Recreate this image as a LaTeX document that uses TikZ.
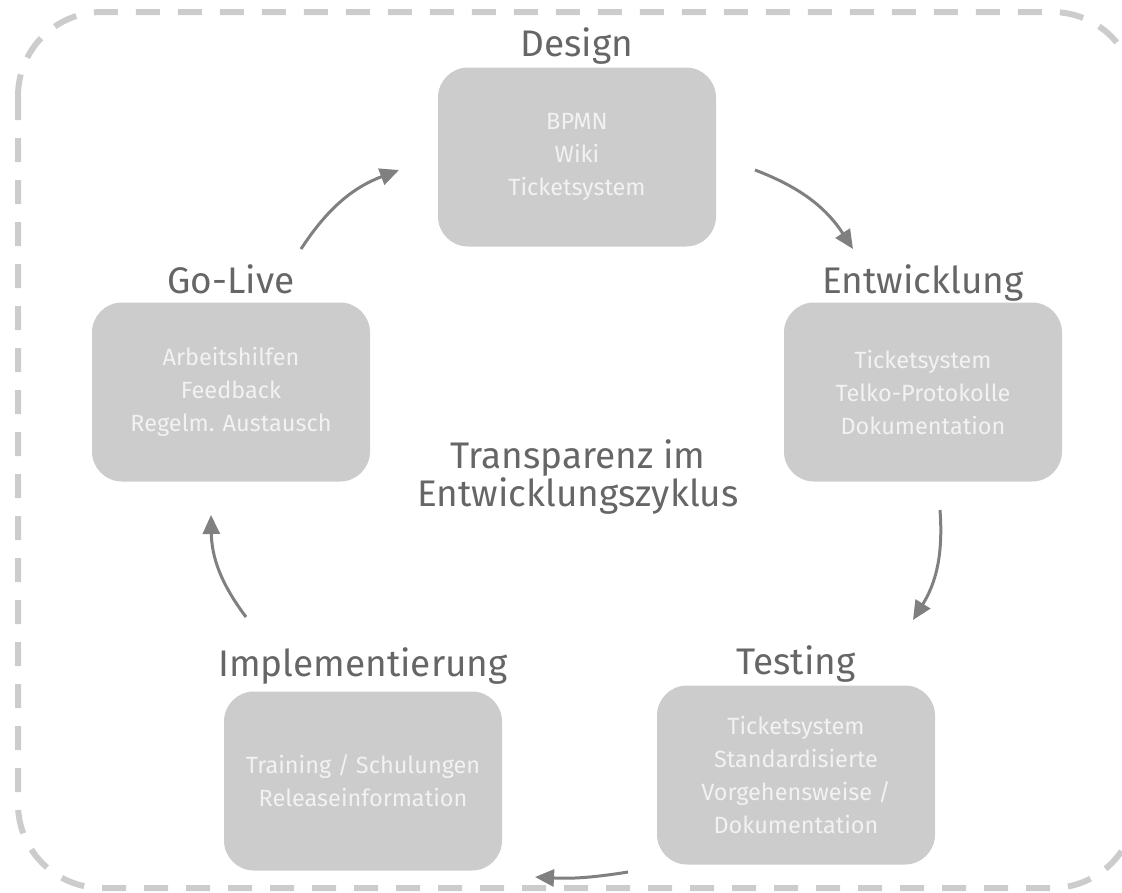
\documentclass[tikz,border=0pt]{standalone}
\usepackage{fontspec}
\setmainfont{Fira Sans}
\usetikzlibrary{arrows.meta}
\definecolor{boxgray}{HTML}{CCCCCC}
\definecolor{boxtext}{HTML}{F2F2F2}
\definecolor{titlegray}{HTML}{666666}
\definecolor{arrowgray}{HTML}{808080}
\tikzset{
  phasebox/.style={fill=boxgray, rounded corners=30pt, minimum width=278pt, minimum height=179pt,
    text=boxtext, align=center, font=\fontsize{23.5}{33}\selectfont},
  phasetitle/.style={anchor=base, text=titlegray, font=\fontsize{37}{40}\selectfont},
  cycle/.style={-{Triangle[length=19pt,width=17pt]}, draw=arrowgray, line width=3pt, bend left=18}
}
\begin{document}
\begin{tikzpicture}[x=1pt,y=-1pt]
    \useasboundingbox (0,0) rectangle (1122,892);

    % Dashed frame
    \draw[boxgray, line width=6pt, dash pattern=on 24pt off 18pt, rounded corners=84pt]
        (18,12) rectangle (1136,888);

    % Phase boxes
    \node[phasebox] (design) at (577,157) {BPMN\\Wiki\\Ticketsystem};
    \node[phasebox] (entw) at (923,392) {Ticketsystem\\Telko-Protokolle\\Dokumentation};
    \node[phasebox] (test) at (796,775) {Ticketsystem\\Standardisierte\\Vorgehensweise /\\Dokumentation};
    \node[phasebox] (impl) at (363,781) {Training / Schulungen\\Releaseinformation};
    \node[phasebox] (golive) at (231,392) {Arbeitshilfen\\Feedback\\Regelm. Austausch};

    % Phase titles
    \node[phasetitle] (designT) at ([yshift=11pt]design.north) {Design};
    \node[phasetitle] (entwT) at ([yshift=9pt]entw.north) {Entwicklung};
    \node[phasetitle] (testT) at ([yshift=11pt]test.north) {Testing};
    \node[phasetitle] (implT) at ([yshift=15pt]impl.north) {Implementierung};
    \node[phasetitle] (goliveT) at ([yshift=9pt]golive.north) {Go-Live};

    % Centre label
    \node[text=titlegray, align=center, font=\fontsize{37}{38}\selectfont] (centre) at (578,477)
        {Transparenz im\\Entwicklungszyklus};

    % Cycle arrows
    \coordinate (g1) at (301,249);  \coordinate (d0) at (399,170);
    \coordinate (d1) at (755,170);  \coordinate (e0) at (853,249);
    \coordinate (e1) at (940,510);  \coordinate (t0) at (913,620);
    \coordinate (t1) at (628,872);  \coordinate (i0) at (535,877);
    \coordinate (i1) at (246,617);  \coordinate (g0) at (211,515);
    \draw[cycle] (g1) to (d0);
    \draw[cycle] (d1) to (e0);
    \draw[cycle] (e1) to (t0);
    \draw[cycle, bend left=6] (t1) to (i0);
    \draw[cycle] (i1) to (g0);
\end{tikzpicture}
\end{document}
